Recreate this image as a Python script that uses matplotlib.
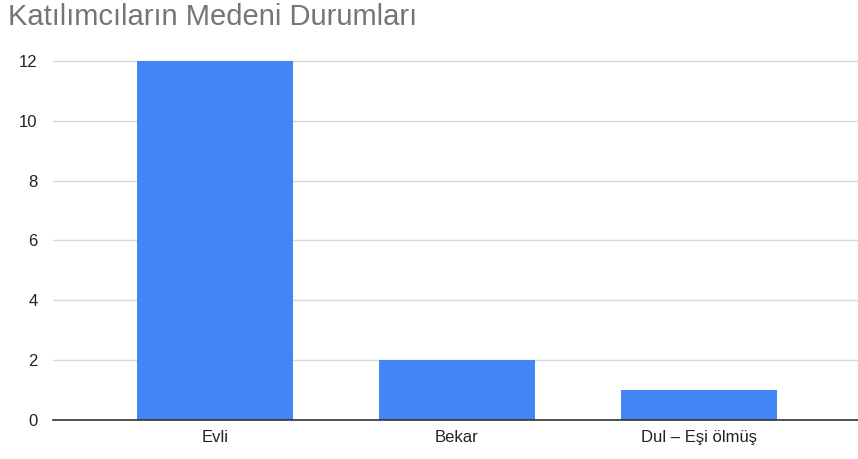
import matplotlib
matplotlib.use("Agg")
import matplotlib.pyplot as plt

# Medeni durum dağılımı
categories = ["Evli", "Bekar", "Dul – Eşi ölmüş"]
counts = [12, 2, 1]
y_ticks = [0, 2, 4, 6, 8, 10, 12]

plt.rcParams['font.family'] = ['Liberation Sans', 'DejaVu Sans']

fig = plt.figure(figsize=(8.58, 4.59), dpi=100)
ax = fig.add_axes([53 / 858, 1 - 420 / 459, 805 / 858, (420 - 58) / 459])

x = range(len(categories))
ax.bar(x, counts, width=0.645, color="#4285f4", zorder=3)

ax.set_xlim(-0.669, 2.657)
ax.set_ylim(0, 12 * 362 / 359)
ax.set_yticks(y_ticks)
ax.set_yticklabels([str(v) for v in y_ticks])
ax.set_xticks(list(x))
ax.set_xticklabels(categories)

ax.grid(axis="y", color="#d9d9d9", linewidth=1, zorder=0)
for side in ["top", "right", "left"]:
    ax.spines[side].set_visible(False)
ax.spines["bottom"].set_color("#333333")
ax.spines["bottom"].set_linewidth(1.2)
ax.spines["bottom"].set_zorder(4)
ax.tick_params(axis="both", length=0, labelsize=12, labelcolor="#222222")
ax.tick_params(axis="y", pad=11)
ax.tick_params(axis="x", pad=7)

fig.text(8 / 858, 1 - 17 / 459, "Katılımcıların Medeni Durumları",
         fontsize=21, color="#757575", va="center", ha="left")

fig.savefig("out.png", dpi=100)
